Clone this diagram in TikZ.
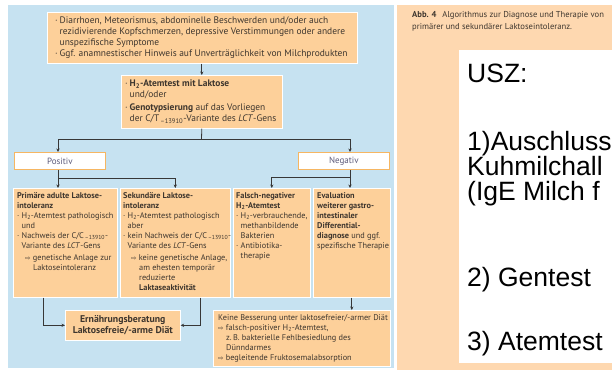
\documentclass[tikz,border=0pt]{standalone}
\usepackage{fontspec}
\setmainfont{PT Sans}
\newfontfamily\arialf{Liberation Sans}
\newfontfamily\symf{DejaVu Sans}
\usetikzlibrary{arrows.meta}
\definecolor{bluebg}{RGB}{198,226,241}
\definecolor{boxfill}{RGB}{253,208,154}
\definecolor{peach}{RGB}{254,216,176}
\definecolor{txt}{RGB}{62,54,46}
\definecolor{lbl}{RGB}{92,90,122}
\definecolor{lblborder}{RGB}{246,182,98}
\definecolor{arrowc}{RGB}{55,55,55}
\newcommand{\Hz}{H\textsubscript{2}}
\newcommand{\bul}{\makebox[4.5pt][l]{·}}
\newcommand{\myind}{\hspace*{4.5pt}}
\newcommand{\darr}{{\symf\fontsize{6.5}{6}\selectfont ⇨}}
\tikzset{
  cbox/.style={draw=white, line width=0.6pt, fill=boxfill, inner sep=0pt, anchor=north west},
  lblbox/.style={draw=lblborder, line width=0.8pt, fill=white, inner sep=0pt, anchor=north west},
  lbltx/.style={text=lbl, font=\fontsize{9}{10}\selectfont},
  tx/.style={inner sep=0pt, anchor=north west, align=left, text=txt},
  bigtx/.style={tx, font=\fontsize{9.45}{11}\selectfont},
  smtx/.style={tx, font=\fontsize{8.3}{10}\selectfont},
  captx/.style={tx, anchor=base west, font=\fontsize{8.6}{9}\selectfont},
  usz/.style={inner sep=0pt, anchor=base west, text=black, font=\arialf\fontsize{26.5}{25}\selectfont},
  arr/.style={draw=arrowc, line width=0.8pt, -{Stealth[length=3.5pt,width=3.2pt]}},
  ln/.style={draw=arrowc, line width=0.8pt}
}
\begin{document}
\begin{tikzpicture}[x=1pt,y=-1pt]
\useasboundingbox (0,0) rectangle (612,370);
\begin{scope}
\clip (0,0) rectangle (612,370);
\fill[white] (0,0) rectangle (612,370);
\fill[bluebg] (8,5) rectangle (394,368);
\fill[peach] (397,5) rectangle (612,370);
\fill[white] (459,50) rectangle (612,363);

% caption
\node[captx] (cap1) at (412,17) {\textbf{Abb. 4}\hspace{6pt}Algorithmus zur Diagnose und Therapie von};
\node[captx] (cap2) at (412,29) {primärer und sekundärer Laktoseintoleranz.};

% USZ text
\node[usz] (u0) at (467,82) {USZ:};
\node[usz] (u1) at (467,150) {1)Auschluss};
\node[usz] (u2) at (467,175) {Kuhmilchall};
\node[usz] (u3) at (467,200) {(IgE Milch f};
\node[usz] (u4) at (467,286) {2) Gentest};
\node[usz] (u5) at (467,350) {3) Atemtest};

% boxes
\node[cbox, minimum width=310pt, minimum height=51pt] (top) at (47,12) {};
\node[cbox, minimum width=161pt, minimum height=53pt] (test) at (121,75) {};
\node[lblbox, minimum width=91pt, minimum height=17pt] (pos) at (14,152) {};
\node[lblbox, minimum width=91pt, minimum height=17pt] (neg) at (298,152) {};
\node[cbox, minimum width=104pt, minimum height=109pt] (A) at (13,188) {};
\node[cbox, minimum width=110pt, minimum height=109pt] (B) at (120,188) {};
\node[cbox, minimum width=77pt, minimum height=109pt] (C) at (233,188) {};
\node[cbox, minimum width=77pt, minimum height=109pt] (D) at (313,188) {};
\node[cbox, minimum width=115pt, minimum height=30pt] (E) at (65,310) {};
\node[cbox, minimum width=177pt, minimum height=56pt] (F) at (213,310) {};

% labels
\node[lbltx] (post) at (pos.center) {Positiv};
\node[lbltx] (negt) at (neg.center) {Negativ};

% texts
\node[bigtx] (topt) at (55,17) {\bul Diarrhoen, Meteorismus, abdominelle Beschwerden und/oder auch\\
\myind rezidivierende Kopfschmerzen, depressive Verstimmungen oder andere\\
\myind unspezifische Symptome\\
\bul Ggf. anamnestischer Hinweis auf Unverträglichkeit von Milchprodukten};

\node[bigtx] (testt) at (125,80) {\bul\textbf{\Hz-Atemtest mit Laktose}\\
\myind und/oder\\[2pt]
\bul\textbf{Genotypsierung} auf das Vorliegen\\
\myind der C/T\textsubscript{\,–13910}-Variante des \textit{LCT}-Gens};

\node[smtx] (At) at (17,192) {\textbf{Primäre adulte Laktose-}\\
\textbf{intoleranz}\\
\bul \Hz-Atemtest pathologisch\\
\myind und\\
\bul Nachweis der C/C\textsubscript{\,–13910}-\\
\myind Variante des \textit{LCT}-Gens\\[2pt]
\hspace*{8pt}\darr\ genetische Anlage zur\\
\hspace*{16pt}Laktoseintoleranz};

\node[smtx] (Bt) at (123,192) {\textbf{Sekundäre Laktose-}\\
\textbf{intoleranz}\\
\bul \Hz-Atemtest pathologisch\\
\myind aber\\
\bul kein Nachweis der C/C\textsubscript{\,–13910}-\\
\myind Variante des \textit{LCT}-Gens\\[2pt]
\hspace*{8pt}\darr\ keine genetische Anlage,\\
\hspace*{16pt}am ehesten temporär\\
\hspace*{16pt}reduzierte\\
\hspace*{16pt}\textbf{Laktaseaktivität}};

\node[smtx] (Ct) at (236,192) {\textbf{Falsch-negativer}\\
\textbf{\Hz-Atemtest}\\
\bul \Hz-verbrauchende,\\
\myind methanbildende\\
\myind Bakterien\\
\bul Antibiotika-\\
\myind therapie};

\node[smtx] (Dt) at (317,192) {\textbf{Evaluation}\\
\textbf{weiterer gastro-}\\
\textbf{intestinaler}\\
\textbf{Differential-}\\
\textbf{diagnose} und ggf.\\
spezifische Therapie};

\node[align=center, text=txt, font=\bfseries\fontsize{9.8}{10.5}\selectfont] (Et) at (E.center) {Ernährungsberatung\\Laktosefreie/-arme Diät};

\node[smtx] (Ft) at (218,314) {Keine Besserung unter laktosefreier/-armer Diät\\
\darr\ falsch-positiver \Hz-Atemtest,\\
\hspace*{8pt}z.\,B. bakterielle Fehlbesiedlung des\\
\hspace*{8pt}Dünndarmes\\
\darr\ begleitende Fruktosemalabsorption};

% connectors
\draw[arr] (test.north |- top.south) -- (test.north);
\coordinate (j1) at (201.5,139);
\coordinate (pj) at (58,178);
\coordinate (nj) at (350,177);
\draw[ln] (test.south) -- (j1);
\draw[arr] (j1) -| (pos.north -| pj);
\draw[arr] (j1) -| (neg.north -| nj);
\draw[arr] (pos.south -| pj) -- (A.north -| pj);
\draw[arr] (pj) -| (B.north);
\draw[arr] (neg.south -| nj) -- (D.north -| nj);
\draw[arr] (nj) -| (C.north);
\draw[arr] ([xshift=-22pt]A.south) |- (E.west);
\draw[arr] ([xshift=25pt]B.south) |- (E.east);
\draw[arr] (D.south) -- (D.south |- F.north);
\end{scope}
\end{tikzpicture}
\end{document}
